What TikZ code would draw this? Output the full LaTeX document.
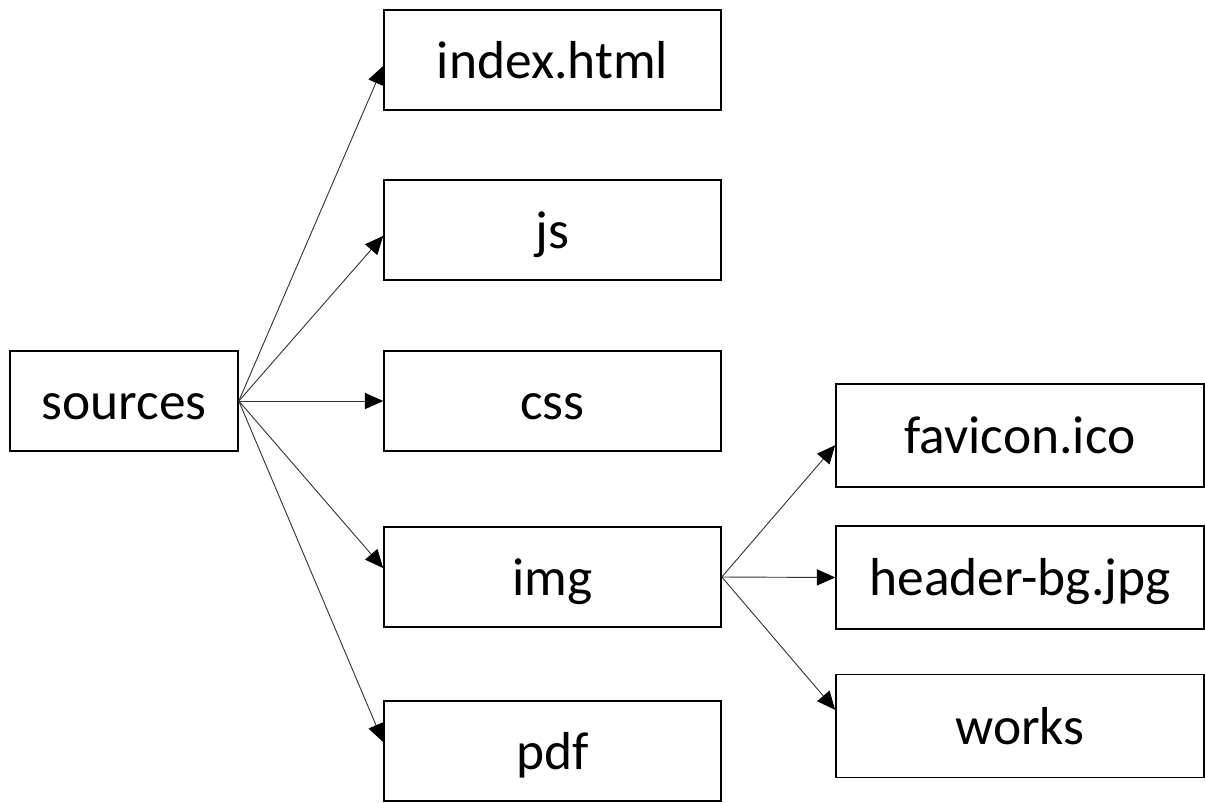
\documentclass[tikz,border=0pt]{standalone}
\usepackage{fontspec}
\setmainfont{Carlito}
\usetikzlibrary{arrows.meta}
\usetikzlibrary{positioning}

\begin{document}
\begin{tikzpicture}[x=0.025cm,y=-0.025cm,
    folder/.style={draw,line width=1.1pt,minimum width=8.425cm,minimum height=2.5cm,inner sep=0pt,
      text height=1cm,text depth=0.1cm,font=\fontsize{38}{46}\selectfont},
    leaf/.style={folder,minimum width=9.2cm,minimum height=2.575cm},
    link/.style={-{Triangle[length=13pt,width=11.5pt,color=black]},line width=0.65pt,draw=black!80}]
		\useasboundingbox (0,0) rectangle (1205,803);
		% first level
		\node (sources) at (124,401) [folder,minimum width=5.7cm] {sources};
		\node (index) at (552.5,60) [folder] {index.html};
		\node (js) at (552.5,230) [folder] {js};
		\node (css) at (552.5,401) [folder] {css};
		\node (img) at (552.5,577) [folder] {img};
		\node (pdf) at (552.5,751) [folder] {pdf};
		% inside img
		\node (favicon) at (1020,435.5) [leaf] {favicon.ico};
		\node (header) at (1020,577.5) [leaf] {header-bg.jpg};
		\node (works) at (1020,726) [leaf] {works};
		\draw [link] (sources.east) -- (index.182.7);
		\draw [link] (sources.east) -- (js.182.7);
		\draw [link] (sources.east) -- (css.west);
		\draw [link] (sources.east) -- (img.177.6);
		\draw [link] (sources.east) -- (pdf.177);
		\draw [link] (img.east) -- (favicon.183.6);
		\draw [link] (img.east) -- (header.west);
		\draw [link] (img.east) -- (works.175);
\end{tikzpicture}
\end{document}
